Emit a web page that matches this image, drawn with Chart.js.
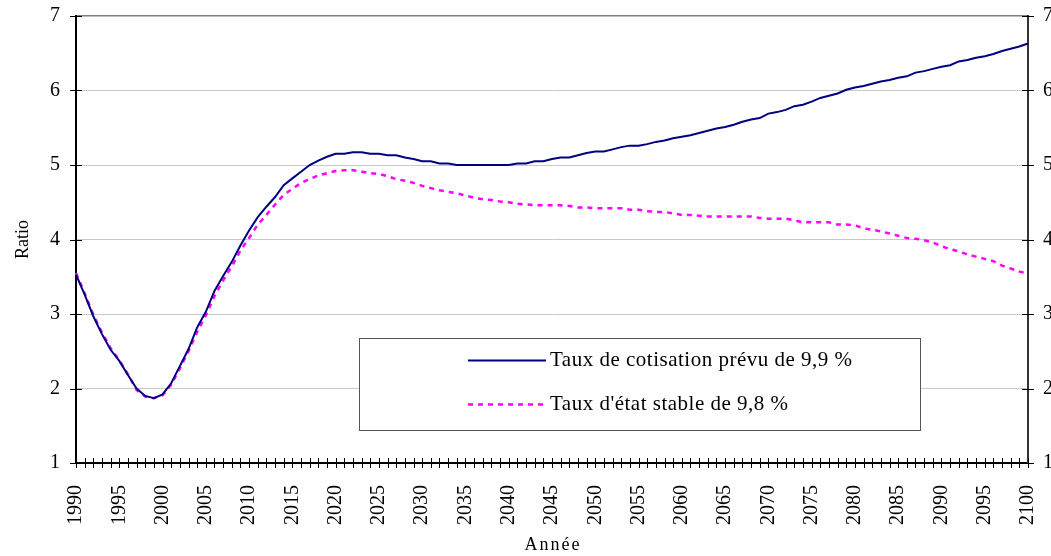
<!DOCTYPE html>
<html>
<head>
<meta charset="utf-8">
<script src="https://cdn.jsdelivr.net/npm/chart.js@4.4.0/dist/chart.umd.min.js"></script>
<style>
  body { margin: 0; background: #fff; }
</style>
</head>
<body>
<canvas id="myChart" width="1051" height="556"></canvas>
<script>
const years = Array.from({ length: 111 }, (_, i) => String(1990 + i));

const tauxPrevu = [
    3.53, 3.26, 2.97, 2.73, 2.52, 2.37, 2.18, 2.00, 1.90, 1.87,
    1.92, 2.07, 2.30, 2.53, 2.82, 3.03, 3.31, 3.51, 3.70, 3.92,
    4.12, 4.30, 4.44, 4.57, 4.73, 4.82, 4.91, 5.00, 5.06, 5.11,
    5.15, 5.15, 5.17, 5.17, 5.15, 5.15, 5.13, 5.13, 5.10, 5.08,
    5.05, 5.05, 5.02, 5.02, 5.00, 5.00, 5.00, 5.00, 5.00, 5.00,
    5.00, 5.02, 5.02, 5.05, 5.05, 5.08, 5.10, 5.10, 5.13, 5.16,
    5.18, 5.18, 5.21, 5.24, 5.26, 5.26, 5.28, 5.31, 5.33, 5.36,
    5.38, 5.40, 5.43, 5.46, 5.49, 5.51, 5.54, 5.58, 5.61, 5.63,
    5.69, 5.71, 5.74, 5.79, 5.81, 5.85, 5.90, 5.93, 5.96, 6.01,
    6.04, 6.06, 6.09, 6.12, 6.14, 6.17, 6.19, 6.24, 6.26, 6.29,
    6.32, 6.34, 6.39, 6.41, 6.44, 6.46, 6.49, 6.53, 6.56, 6.59,
    6.63
];

const tauxStable = [
    3.55, 3.28, 2.99, 2.75, 2.54, 2.38, 2.19, 1.98, 1.89, 1.87,
    1.91, 2.05, 2.27, 2.50, 2.76, 2.98, 3.24, 3.45, 3.64, 3.85,
    4.02, 4.20, 4.33, 4.47, 4.60, 4.68, 4.76, 4.81, 4.86, 4.89,
    4.92, 4.93, 4.93, 4.91, 4.89, 4.88, 4.85, 4.81, 4.79, 4.76,
    4.72, 4.69, 4.66, 4.64, 4.62, 4.59, 4.56, 4.54, 4.53, 4.51,
    4.50, 4.48, 4.47, 4.46, 4.46, 4.46, 4.46, 4.45, 4.43, 4.43,
    4.42, 4.42, 4.42, 4.42, 4.40, 4.40, 4.38, 4.37, 4.37, 4.35,
    4.33, 4.33, 4.32, 4.31, 4.31, 4.31, 4.31, 4.31, 4.31, 4.29,
    4.28, 4.28, 4.28, 4.26, 4.23, 4.23, 4.23, 4.23, 4.20, 4.20,
    4.19, 4.15, 4.13, 4.11, 4.08, 4.05, 4.02, 4.01, 3.99, 3.96,
    3.91, 3.87, 3.84, 3.80, 3.77, 3.74, 3.71, 3.65, 3.61, 3.57,
    3.54
];

const yTicks = [1, 2, 3, 4, 5, 6, 7];
const serif = 'Liberation Serif, Times New Roman, serif';

// petites graduations qui traversent les axes + titre "Année" espacé
const crossTicks = {
    id: 'crossTicks',
    afterDraw(chart) {
        const { ctx, scales } = chart;
        const x = scales.x, y = scales.y;
        ctx.save();
        ctx.strokeStyle = '#000';
        ctx.lineWidth = 1;
        ctx.beginPath();
        years.forEach((_, i) => {
            const px = Math.round(x.getPixelForValue(i)) + 0.5;
            ctx.moveTo(px, y.bottom - 5);
            ctx.lineTo(px, y.bottom + 5);
        });
        yTicks.forEach(v => {
            const py = Math.round(y.getPixelForValue(v)) + 0.5;
            ctx.moveTo(x.left - 6, py);
            ctx.lineTo(x.left + 6, py);
            ctx.moveTo(x.right - 6, py);
            ctx.lineTo(x.right + 6, py);
        });
        ctx.stroke();
        ctx.fillStyle = '#000';
        ctx.font = '18px ' + serif;
        ctx.letterSpacing = '2px';
        ctx.textAlign = 'center';
        ctx.textBaseline = 'middle';
        ctx.fillText('Année', (x.left + x.right) / 2 + 1, 545);
        ctx.restore();
    }
};

// légende encadrée dans la zone du graphique
const boxLegend = {
    id: 'boxLegend',
    afterDatasetsDraw(chart) {
        const ctx = chart.ctx;
        const bx = 359.5, by = 338.5, bw = 561, bh = 92;
        ctx.save();
        ctx.fillStyle = '#fff';
        ctx.fillRect(bx, by, bw, bh);
        ctx.strokeStyle = '#555';
        ctx.lineWidth = 1;
        ctx.strokeRect(bx, by, bw, bh);
        chart.data.datasets.forEach((ds, i) => {
            const ly = by + 22 + i * 44;
            ctx.beginPath();
            ctx.strokeStyle = ds.borderColor;
            ctx.lineWidth = ds.borderWidth;
            ctx.setLineDash(ds.borderDash || []);
            ctx.moveTo(468, ly);
            ctx.lineTo(546, ly);
            ctx.stroke();
            ctx.setLineDash([]);
            ctx.fillStyle = '#000';
            ctx.font = '21px ' + serif;
            ctx.letterSpacing = '0.5px';
            ctx.textBaseline = 'middle';
            ctx.fillText(ds.label, 550, ly);
        });
        ctx.restore();
    }
};

new Chart(document.getElementById('myChart'), {
    type: 'line',
    data: {
        labels: years,
        datasets: [{
            label: 'Taux de cotisation prévu de 9,9 %',
            data: tauxPrevu,
            borderColor: '#000080',
            borderWidth: 2,
            pointRadius: 0,
            tension: 0,
            yAxisID: 'y'
        }, {
            label: "Taux d'état stable de 9,8 %",
            data: tauxStable,
            borderColor: '#ff00ff',
            borderWidth: 2.5,
            borderDash: [5, 5],
            pointRadius: 0,
            tension: 0,
            yAxisID: 'y'
        }]
    },
    options: {
        responsive: false,
        animation: false,
        layout: { padding: { top: 16, left: 0, right: 0, bottom: 0 } },
        plugins: {
            legend: { display: false },
            tooltip: { enabled: false }
        },
        scales: {
            x: {
                offset: false,
                grid: { display: false, drawTicks: false },
                border: { color: '#000', width: 2 },
                ticks: {
                    autoSkip: false,
                    maxRotation: 90,
                    minRotation: 90,
                    padding: 22,
                    color: '#000',
                    font: { family: serif, size: 20 },
                    callback: (v, i) => (i % 5 === 0 ? years[i] : '')
                },
                afterFit: s => {
                    s.height = 93;
                    s.paddingLeft = 0;
                    s.paddingRight = 0;
                }
            },
            y: {
                min: 1,
                max: 7,
                afterBuildTicks: s => { s.ticks = yTicks.map(v => ({ value: v })); },
                grid: {
                    drawTicks: false,
                    color: c => (c.tick && c.tick.value === 7 ? '#808080' : '#c8c8c8'),
                    lineWidth: c => (c.tick && c.tick.value === 7 ? 1.5 : 1)
                },
                border: { color: '#000', width: 2 },
                ticks: {
                    padding: 16,
                    color: '#000',
                    font: { family: serif, size: 20 }
                },
                title: {
                    display: true,
                    text: 'Ratio',
                    color: '#000',
                    font: { family: serif, size: 18 },
                    padding: { top: 12, bottom: 0 }
                },
                afterFit: s => {
                    s.width = 76;
                    s.paddingTop = 0;
                    s.paddingBottom = 0;
                }
            },
            y2: {
                position: 'right',
                min: 1,
                max: 7,
                afterBuildTicks: s => { s.ticks = yTicks.map(v => ({ value: v })); },
                grid: { drawOnChartArea: false, drawTicks: false },
                border: { color: '#333', width: 2 },
                ticks: {
                    padding: 15,
                    color: '#000',
                    font: { family: serif, size: 20 }
                },
                afterFit: s => {
                    s.width = 23;
                    s.paddingTop = 0;
                    s.paddingBottom = 0;
                }
            }
        }
    },
    plugins: [crossTicks, boxLegend]
});
</script>
</body>
</html>
